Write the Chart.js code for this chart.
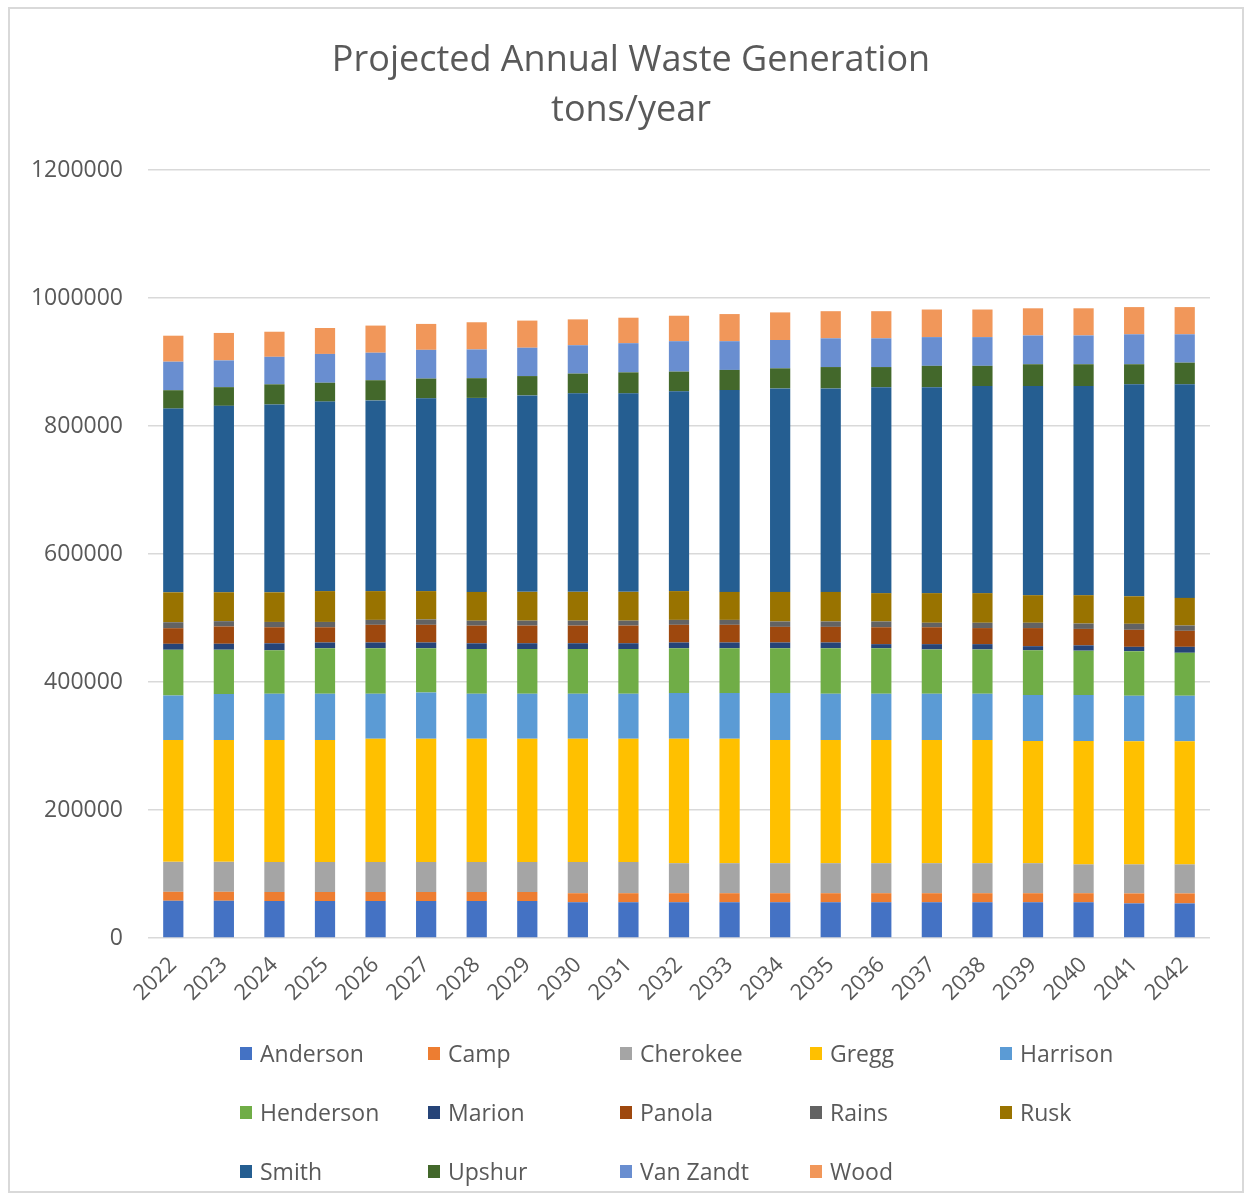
<!DOCTYPE html>
<html>
<head>
<meta charset="utf-8">
<script src="https://cdn.jsdelivr.net/npm/chart.js@4.4.1/dist/chart.umd.min.js"></script>
<style>
  body { margin: 0; background: #fff; font-family: "Open Sans", sans-serif; }
  #wrap { position: relative; width: 1250px; height: 1197px; overflow: hidden; }
  #frame { position: absolute; left: 8px; top: 7px; width: 1236px; height: 1186px; border: 2px solid #d9d9d9; box-sizing: border-box; pointer-events: none; }
  #chart { position: absolute; left: 0; top: 0; }
  .lg { position: absolute; display: flex; align-items: center; font-size: 23px; color: #595959; white-space: nowrap; transform: translateY(-50%); }
  .lg span.box { display: inline-block; width: 12px; height: 13px; margin-right: 8px; }
</style>
</head>
<body>
<div id="wrap">
  <canvas id="chart" width="1250" height="1197"></canvas>
  <div id="legend"></div>
  <div id="frame"></div>
</div>
<script>
// values, tons/year
const years = ['2022','2023','2024','2025','2026','2027','2028','2029','2030','2031','2032',
  '2033','2034','2035','2036','2037','2038','2039','2040','2041','2042'];

const anderson = [58200,58200,57800,57800,57800,57800,57800,57800,55900,55900,55900,55900,55900,55900,55900,55900,55900,55900,55900,54100,54100];
const camp = [14000,14000,14100,14100,14100,14100,14100,14100,14100,14100,14100,14100,14100,14100,14100,14100,14100,14100,14100,15600,15600];
const cherokee = [46800,46800,46900,46900,46900,46900,46900,46900,48800,48800,46900,46900,46900,46900,46900,46900,46900,46900,45000,45300,45300];
const gregg = [190400,190400,190800,190800,192700,192700,192700,192700,192700,192700,194600,194600,192700,192700,192700,192700,192700,190800,192700,192300,192300];
const harrison = [69700,71800,71900,71900,70000,72000,70100,70100,70100,70100,71300,71300,73200,71900,71900,71900,71900,71900,71900,71300,71300];
const henderson = [71300,69300,68100,71300,71300,69300,69900,70000,70000,70000,70000,70000,70000,71300,71300,69400,69400,70000,69400,69600,67100];
const marion = [9300,9300,10900,9000,9000,9000,9000,9000,9000,9000,9000,9000,9000,9000,6400,8300,8300,6400,8300,6800,9300];
const panola = [24400,27000,25100,23800,27600,27600,27600,27600,27600,27600,27600,27600,24400,24400,26400,26400,25100,28300,25700,26600,25000];
const rains = [9300,8300,8300,8300,7700,8400,7700,7700,7700,7700,7700,7700,8400,8400,9000,7000,8300,8300,8400,9400,8300];
const rusk = [46800,45200,46300,48200,45000,44300,45000,45000,45000,45000,45000,43700,46200,46200,44300,46300,46300,43100,44300,43000,43200];
const smith = [287100,291300,293500,296100,298000,301200,303200,307000,310200,310200,312200,315400,318000,318000,321800,321800,323700,326900,326900,331300,333800];
const upshur = [28700,29200,31500,29500,31500,30900,30800,30200,30900,32800,30800,31500,31400,33400,31500,33400,31500,34000,34000,31300,33800];
const vanZandt = [44600,41800,43000,45000,43000,44900,44900,44300,44300,45600,47500,44900,44300,44900,44900,44900,44900,45000,45000,46800,44300];
const wood = [40600,42900,39200,40500,42400,40500,42500,42400,40400,39800,39800,42400,43100,42400,42400,43100,43100,42400,42400,42500,42500];

const yTicks = [0, 200000, 400000, 600000, 800000, 1000000, 1200000];

const series = [
  ['Anderson', anderson, '#4472C4'],
  ['Camp', camp, '#ED7D31'],
  ['Cherokee', cherokee, '#A5A5A5'],
  ['Gregg', gregg, '#FFC000'],
  ['Harrison', harrison, '#5B9BD5'],
  ['Henderson', henderson, '#70AD47'],
  ['Marion', marion, '#264478'],
  ['Panola', panola, '#9E480E'],
  ['Rains', rains, '#636363'],
  ['Rusk', rusk, '#997300'],
  ['Smith', smith, '#255E91'],
  ['Upshur', upshur, '#43682B'],
  ['Van Zandt', vanZandt, '#698ED0'],
  ['Wood', wood, '#F1975A']
];

const grey = '#595959';

// the title in the original is centred on the whole frame, not the plot area
const centreTitle = {
  id: 'centreTitle',
  afterLayout(chart) {
    if (chart.titleBlock) chart.titleBlock.left = 52;
  }
};

const chart = new Chart(document.getElementById('chart'), {
  type: 'bar',
  data: {
    labels: years,
    datasets: series.map(([name, vals, col]) => ({
      label: name,
      data: vals,
      backgroundColor: col,
      borderWidth: 0,
      barPercentage: 0.4,
      categoryPercentage: 1
    }))
  },
  options: {
    responsive: false,
    animation: false,
    layout: { padding: { top: 8, left: 0, right: 40, bottom: 169 } },
    plugins: {
      legend: { display: false },
      tooltip: { enabled: false },
      title: {
        display: true,
        text: ['Projected Annual Waste Generation', 'tons/year'],
        color: grey,
        font: { family: 'Open Sans', size: 36, weight: 'normal', lineHeight: 1.39 },
        padding: { top: 28, bottom: 34 }
      }
    },
    scales: {
      x: {
        stacked: true,
        grid: { display: false },
        border: { display: false },
        ticks: {
          color: grey,
          font: { family: 'Open Sans', size: 22 },
          minRotation: 45,
          maxRotation: 45,
          padding: 6
        },
        afterFit: s => { s.height = 90; }
      },
      y: {
        stacked: true,
        min: 0,
        max: 1200000,
        afterBuildTicks: s => { s.ticks = yTicks.map(v => ({ value: v })); },
        grid: { color: '#d9d9d9', lineWidth: 1.5, drawTicks: false },
        border: { display: false },
        ticks: {
          color: grey,
          font: { family: 'Open Sans', size: 23 },
          padding: 25,
          callback: v => String(v)
        },
        afterFit: s => { s.width = 148; }
      }
    }
  },
  plugins: [centreTitle]
});

// legend laid out in a 5-column grid like the original
const colX = [240, 428, 620, 810, 1000];
const rowY = [1053, 1112, 1171];
const lg = document.getElementById('legend');
chart.data.datasets.forEach((ds, i) => {
  const d = document.createElement('div');
  d.className = 'lg';
  d.style.left = colX[i % 5] + 'px';
  d.style.top = rowY[Math.floor(i / 5)] + 'px';
  const b = document.createElement('span');
  b.className = 'box';
  b.style.background = ds.backgroundColor;
  d.appendChild(b);
  d.appendChild(document.createTextNode(ds.label));
  lg.appendChild(d);
});
</script>
</body>
</html>
